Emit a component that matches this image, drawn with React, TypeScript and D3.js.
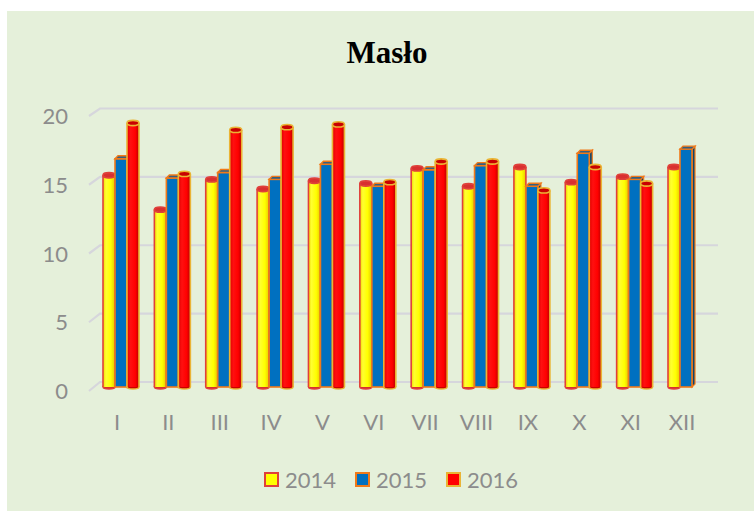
import React from "react";
import * as d3 from "d3";

const months = ["I", "II", "III", "IV", "V", "VI", "VII", "VIII", "IX", "X", "XI", "XII"];
const years = ["2014", "2015", "2016"];
const v2014 = [15.4, 12.9, 15.1, 14.4, 15.0, 14.8, 15.9, 14.6, 16.0, 14.9, 15.3, 16.0];
const v2015 = [16.6, 15.2, 15.6, 15.1, 16.2, 14.6, 15.8, 16.1, 14.6, 17.0, 15.1, 17.3];
const v2016: (number | null)[] = [19.2, 15.5, 18.7, 18.9, 19.1, 14.9, 16.4, 16.4, 14.3, 16.0, 14.8, null];
const yTicks = [0, 5, 10, 15, 20];

const W = 754;
const H = 511;

const styles = [
  { fill: "url(#gYellow)", stroke: "#e0403a", cap: "#d83030", swatch: "#ffff00" },
  { fill: "#0070c0", stroke: "#f07a1a", cap: "#355f80", swatch: "#0070c0" },
  { fill: "url(#gRed)", stroke: "#eab434", cap: "#c80000", swatch: "#ff0000" },
];

export default function App() {
  const xc = d3.scalePoint<string>().domain(months).range([121, 686]);
  const xs = d3.scaleBand<string>().domain(years).range([-18, 18]);
  const y = d3.scaleLinear().domain([0, 20]).range([387, 112]);
  const yFront = d3.scaleLinear().domain([0, 20]).range([391, 116]);
  const yBack = d3.scaleLinear().domain([0, 20]).range([382, 108.5]);
  const series = [v2014, v2015, v2016];
  const bw = xs.bandwidth();
  const font = "Lato, 'Open Sans', sans-serif";

  const bars: React.ReactNode[] = [];
  months.forEach((m, i) => {
    series.forEach((s, k) => {
      const v = s[i];
      if (v == null) return;
      const x0 = (xc(m) as number) + (xs(years[k]) as number);
      const yt = y(v);
      const yb = y(0);
      const st = styles[k];
      if (k === 1) {
        const d = 3;
        bars.push(
          <g key={m + k}>
            <path d={`M${x0 + bw},${yt} L${x0 + bw + d},${yt - d} L${x0 + bw + d},${yb - d} L${x0 + bw},${yb} Z`} fill="#0b4670" stroke={st.stroke} strokeWidth={1.2} />
            <rect x={x0} y={yt} width={bw} height={yb - yt} fill={st.fill} stroke={st.stroke} strokeWidth={1.6} />
            <path d={`M${x0},${yt} L${x0 + d},${yt - d} L${x0 + bw + d},${yt - d} L${x0 + bw},${yt} Z`} fill={st.cap} stroke={st.stroke} strokeWidth={1.4} />
          </g>
        );
      } else {
        const rx = bw / 2;
        const cx = x0 + rx;
        bars.push(
          <g key={m + k}>
            <ellipse cx={cx} cy={yb} rx={rx} ry={2} fill={st.cap} stroke={st.stroke} strokeWidth={1.4} />
            <rect x={x0} y={yt} width={bw} height={yb - yt} fill={st.fill} stroke="none" />
            <line x1={x0} x2={x0} y1={yt} y2={yb} stroke={st.stroke} strokeWidth={1.6} />
            <line x1={x0 + bw} x2={x0 + bw} y1={yt} y2={yb} stroke={st.stroke} strokeWidth={1.6} />
            <ellipse cx={cx} cy={yt} rx={rx} ry={2.6} fill={st.cap} stroke={st.stroke} strokeWidth={1.6} />
          </g>
        );
      }
    });
  });

  const legendX = [265, 356, 447];

  return (
    <svg width={W} height={H} style={{ position: "absolute", left: 0, top: 0 }}>
      <defs>
        <linearGradient id="gYellow" x1="0" x2="1" y1="0" y2="0">
          <stop offset="0%" stopColor="#f0d800" />
          <stop offset="25%" stopColor="#ffff30" />
          <stop offset="65%" stopColor="#ffff00" />
          <stop offset="100%" stopColor="#e8c800" />
        </linearGradient>
        <linearGradient id="gRed" x1="0" x2="1" y1="0" y2="0">
          <stop offset="0%" stopColor="#e00000" />
          <stop offset="30%" stopColor="#ff1010" />
          <stop offset="70%" stopColor="#ff0000" />
          <stop offset="100%" stopColor="#b80000" />
        </linearGradient>
      </defs>
      <rect x={0} y={0} width={W} height={H} fill="#ffffff" />
      <rect x={7} y={11} width={W - 7} height={H - 11} fill="#e5f0da" />
      <text x={387} y={63} textAnchor="middle" fontFamily="'Liberation Serif', 'Times New Roman', serif" fontWeight="bold" fontSize={31} fill="#000">
        Masło
      </text>
      {yTicks.map((t) => (
        <path key={"g" + t} d={`M89,${yFront(t)} L100,${yBack(t)} L718,${yBack(t)}`} fill="none" stroke="#d6d6dc" strokeWidth={2.2} />
      ))}
      {yTicks.map((t) => (
        <text key={"t" + t} x={68} y={yFront(t) + 8} textAnchor="end" fontFamily={font} fontSize={22} fill="#8c8c8c">
          {t}
        </text>
      ))}
      {bars}
      {months.map((m) => (
        <text key={"m" + m} x={(xc(m) as number) - 4} y={430} textAnchor="middle" fontFamily={font} fontSize={22} fill="#8c8c8c">
          {m}
        </text>
      ))}
      {years.map((yr, k) => (
        <g key={"l" + yr}>
          <rect x={legendX[k]} y={473} width={13} height={13} fill={styles[k].swatch} stroke={styles[k].stroke} strokeWidth={2} />
          <text x={legendX[k] + 20} y={488} fontFamily={font} fontSize={22} fill="#8c8c8c">
            {yr}
          </text>
        </g>
      ))}
    </svg>
  );
}
